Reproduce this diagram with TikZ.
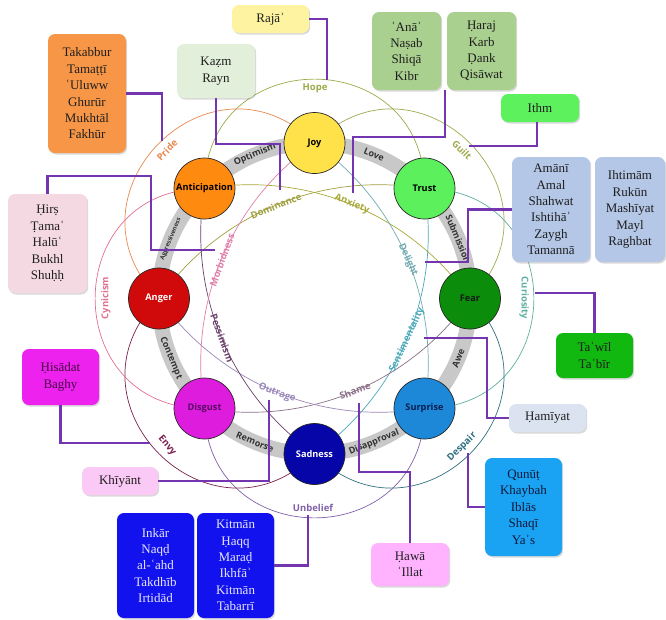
\documentclass[tikz,border=0pt]{standalone}
\usepackage{fontspec}
\setmainfont{Liberation Serif}
\newfontfamily\sansb{Open Sans}
\usetikzlibrary{backgrounds,shadows}
\definecolor{connc}{HTML}{7436B0}
\definecolor{bandc}{HTML}{C8C8C8}
\definecolor{cJoy}{HTML}{FFE24A}
\definecolor{cTrust}{HTML}{5CF05C}
\definecolor{cFear}{HTML}{0B8C0B}
\definecolor{cSurp}{HTML}{1E88D8}
\definecolor{cSad}{HTML}{0505A8}
\definecolor{cDisg}{HTML}{DE1CDE}
\definecolor{cAnger}{HTML}{D00A0A}
\definecolor{cAntic}{HTML}{FF8A10}
\definecolor{cHope}{HTML}{9BAA4A}
\definecolor{cPride}{HTML}{E9874F}
\definecolor{cGuilt}{HTML}{A0AA50}
\definecolor{cCurio}{HTML}{5FAFA0}
\definecolor{cDesp}{HTML}{2F6F80}
\definecolor{cUnbel}{HTML}{8060A8}
\definecolor{cEnvy}{HTML}{7A1F4F}
\definecolor{cCyn}{HTML}{E0708F}
\definecolor{cDom}{HTML}{A0A040}
\definecolor{cAnx}{HTML}{A8A838}
\definecolor{cDel}{HTML}{70AAB0}
\definecolor{cSent}{HTML}{4AA8B8}
\definecolor{cShame}{HTML}{8A7088}
\definecolor{cOutr}{HTML}{9A88B8}
\definecolor{cPess}{HTML}{6A3F6A}
\definecolor{cMorb}{HTML}{E07EA8}
\definecolor{bRaja}{HTML}{FDF3A0}
\definecolor{bKazm}{HTML}{E2EFDA}
\definecolor{bTakab}{HTML}{F79646}
\definecolor{bAna}{HTML}{A9D08E}
\definecolor{bIthm}{HTML}{5DF25D}
\definecolor{bAmani}{HTML}{B4C7E7}
\definecolor{bTawil}{HTML}{10B810}
\definecolor{bHami}{HTML}{DCE3F0}
\definecolor{bQunut}{HTML}{1AA3F2}
\definecolor{bHawa}{HTML}{FFB3FF}
\definecolor{bInkar}{HTML}{1212EE}
\definecolor{bKhiy}{HTML}{FBC9F5}
\definecolor{bHisa}{HTML}{EE22EE}
\definecolor{bHirs}{HTML}{F4D8E2}
\begin{document}
\begin{tikzpicture}[x=1pt,y=-1pt,
  emo/.style={circle, draw=black!85, line width=0.7pt, minimum size=61pt, inner sep=0pt, font=\sansb\bfseries\fontsize{9.2}{10}\selectfont},
  bandseg/.style={draw=bandc, line width=15pt},
  bandlbl/.style={font=\sansb\bfseries\fontsize{9}{10}\selectfont, text=black!80, inner sep=0pt, sloped},
  ringbend/.style={bend left=22.5, looseness=0.89},
  dyadarc/.style={line width=0.7pt},
  sec/.style={bend left=90, looseness=1.7},
  ter/.style={bend left=32, looseness=0.93},
  dlbl/.style={font=\sansb\bfseries\fontsize{9.5}{10}\selectfont, inner sep=0pt},
  box/.style={rounded corners=7pt, align=center, inner sep=0pt, font=\fontsize{13}{16.4}\selectfont, text=black!88, drop shadow={shadow xshift=1.2pt, shadow yshift=-1.5pt, opacity=0.3}},
  conn/.style={draw=connc, line width=2.3pt},
]
\useasboundingbox (0,0) rectangle (666,619);

% emotion nodes
\node[emo, fill=cJoy] (joy) at (314.5,143) {Joy};
\node[emo, fill=cTrust] (trust) at (424.5,188.5) {Trust};
\node[emo, fill=cFear, text=black!90] (fear) at (470,298.5) {Fear};
\node[emo, fill=cSurp, text={rgb,255:red,10;green,30;blue,80}] (surp) at (424.5,408.5) {Surprise};
\node[emo, fill=cSad, text=white] (sad) at (314.5,454) {Sadness};
\node[emo, fill=cDisg, text={rgb,255:red,90;green,10;blue,100}] (disg) at (204.5,408.5) {Disgust};
\node[emo, fill=cAnger, text=white] (anger) at (159,298.5) {Anger};
\node[emo, fill=cAntic] (antic) at (204.5,188.5) {Anticipation};

\begin{pgfonlayer}{background}
% gray band ring
\draw[bandseg] (antic.center) to[ringbend] (joy.center) to[ringbend] (trust.center)
  to[ringbend] (fear.center) to[ringbend] (surp.center) to[ringbend] (sad.center)
  to[ringbend] (disg.center) to[ringbend] (anger.center) to[ringbend] (antic.center);
% secondary dyads (outer)
\draw[dyadarc, cHope] (antic.center) to[sec] (trust.center);
\draw[dyadarc, cGuilt] (joy.center) to[sec] (fear.center);
\draw[dyadarc, cCurio] (trust.center) to[sec] (surp.center);
\draw[dyadarc, cDesp] (fear.center) to[sec] (sad.center);
\draw[dyadarc, cUnbel] (surp.center) to[sec] (disg.center);
\draw[dyadarc, cEnvy] (sad.center) to[sec] (anger.center);
\draw[dyadarc, cCyn] (disg.center) to[sec] (antic.center);
\draw[dyadarc, cPride] (anger.center) to[sec] (joy.center);
% tertiary dyads (inner)
\draw[dyadarc, cDom] (anger.center) to[ter] (trust.center);
\draw[dyadarc, cAnx] (antic.center) to[ter] (fear.center);
\draw[dyadarc, cDel] (joy.center) to[ter] (surp.center);
\draw[dyadarc, cSent] (trust.center) to[ter] (sad.center);
\draw[dyadarc, cShame] (fear.center) to[ter] (disg.center);
\draw[dyadarc, cOutr] (surp.center) to[ter] (anger.center);
\draw[dyadarc, cPess] (sad.center) to[ter] (antic.center);
\draw[dyadarc, cMorb] (disg.center) to[ter] (joy.center);
\end{pgfonlayer}

% band labels
\path (antic.center) to[ringbend] node[bandlbl] {Optimism} (joy.center);
\path (joy.center) to[ringbend] node[bandlbl] {Love} (trust.center);
\path (trust.center) to[ringbend] node[bandlbl] {Submission} (fear.center);
\path (fear.center) to[ringbend] node[bandlbl] {Awe} (surp.center);
\path (surp.center) to[ringbend] node[bandlbl] {Disapproval} (sad.center);
\path (sad.center) to[ringbend] node[bandlbl] {Remorse} (disg.center);
\path (disg.center) to[ringbend] node[bandlbl] {Contempt} (anger.center);
\path (anger.center) to[ringbend] node[bandlbl, font=\sansb\bfseries\fontsize{6}{7}\selectfont] {Aggressiveness} (antic.center);

% dyad labels
\node[dlbl, text=cHope] (lhope) at (315,88) {Hope};
\node[dlbl, text=cPride, rotate=45] (lpride) at (167,150) {Pride};
\node[dlbl, text=cGuilt, rotate=-45] (lguilt) at (462,150) {Guilt};
\node[dlbl, text=cCurio, rotate=-90] (lcurio) at (524,298) {Curiosity};
\node[dlbl, text=cDesp, rotate=45] (ldesp) at (462,447) {Despair};
\node[dlbl, text=cUnbel] (lunbel) at (313,508) {Unbelief};
\node[dlbl, text=cEnvy, rotate=-50] (lenvy) at (167,446) {Envy};
\node[dlbl, text=cCyn, rotate=90] (lcyn) at (106,298) {Cynicism};
\node[dlbl, text=cDom, rotate=22] (ldom) at (276,206) {Dominance};
\node[dlbl, text=cAnx, rotate=-22] (lanx) at (352,204) {Anxiety};
\node[dlbl, text=cDel, rotate=-65] (ldel) at (408,260) {Delight};
\node[dlbl, text=cSent, rotate=65] (lsent) at (407,340) {Sentimentality};
\node[dlbl, text=cShame, rotate=20] (lshame) at (355,391) {Shame};
\node[dlbl, text=cOutr, rotate=-20] (loutr) at (277,393) {Outrage};
\node[dlbl, text=cPess, rotate=-70] (lpess) at (222,338) {Pessimism};
\node[dlbl, text=cMorb, rotate=70] (lmorb) at (222,260) {Morbidness};

% boxes
\node[box, fill=bRaja, minimum width=77pt, minimum height=28pt] (raja) at (270.5,19) {Rajāʾ};
\node[box, fill=bKazm, minimum width=78pt, minimum height=54pt] (kazm) at (216,71) {Kaẓm\\Rayn};
\node[box, fill=bTakab, minimum width=78pt, minimum height=119pt] (takab) at (87,93.5) {Takabbur\\Tamaṭṭī\\ʿUluww\\Ghurūr\\Mukhtāl\\Fakhūr};
\node[box, fill=bAna, minimum width=69pt, minimum height=78pt] (ana) at (406.5,51) {ʿAnāʾ\\Naṣab\\Shiqā\\Kibr};
\node[box, fill=bAna, minimum width=69pt, minimum height=78pt] (haraj) at (481.5,51) {Ḥaraj\\Karb\\Ḍank\\Qisāwat};
\node[box, fill=bIthm, minimum width=78pt, minimum height=28pt] (ithm) at (540,108) {Ithm};
\node[box, fill=bAmani, minimum width=78pt, minimum height=105pt] (amani) at (551,209.5) {Amānī\\Amal\\Shahwat\\Ishtihāʾ\\Zaygh\\Tamannā};
\node[box, fill=bAmani, minimum width=70pt, minimum height=105pt] (ihtimam) at (630,209.5) {Ihtimām\\Rukūn\\Mashīyat\\Mayl\\Raghbat};
\node[box, fill=bTawil, minimum width=77pt, minimum height=45pt] (tawil) at (594.5,355.5) {Taʾwīl\\Taʿbīr};
\node[box, fill=bHami, minimum width=77pt, minimum height=28pt] (hamiyat) at (547.5,418) {Ḥamīyat};
\node[box, fill=bQunut, text={rgb,255:red,15;green,25;blue,60}, minimum width=77pt, minimum height=98pt] (qunut) at (523.5,507) {Qunūṭ\\Khaybah\\Iblās\\Shaqī\\Yaʾs};
\node[box, fill=bHawa, minimum width=78pt, minimum height=43pt] (hawa) at (410,564.5) {Ḥawā\\ʿIllat};
\node[box, fill=bInkar, text=white!90!blue, minimum width=77pt, minimum height=105pt] (inkar) at (155.5,565.5) {Inkār\\Naqḍ\\al-ʿahd\\Takdhīb\\Irtidād};
\node[box, fill=bInkar, text=white!90!blue, minimum width=77pt, minimum height=105pt] (kitman) at (235.5,565.5) {Kitmān\\Ḥaqq\\Maraḍ\\Ikhfāʾ\\Kitmān\\Tabarrī};
\node[box, fill=bKhiy, minimum width=76pt, minimum height=28pt] (khiyant) at (120,481) {Khīyānt};
\node[box, fill=bHisa, text={rgb,255:red,70;green,10;blue,70}, minimum width=77pt, minimum height=56pt] (hisadat) at (60.5,377) {Ḥisādat\\Baghy};
\node[box, fill=bHirs, minimum width=79pt, minimum height=99pt] (hirs) at (47.5,243.5) {Ḥirṣ\\Ṭamaʿ\\Halūʿ\\Bukhl\\Shuḥḥ};

% connector free ends
\coordinate (rajaend) at (327,80);
\coordinate (kazmk) at (280,144);
\coordinate (kazmend) at (280,190);
\coordinate (takabend) at (162,141);
\coordinate (harajk) at (353,137);
\coordinate (harajend) at (353,193);
\coordinate (ithmend) at (469,146);
\coordinate (amanik) at (468,262);
\coordinate (amaniend) at (425,262);
\coordinate (tawilend) at (535,293);
\coordinate (hamik) at (487,338);
\coordinate (hamiend) at (424,338);
\coordinate (qunutend) at (468,453);
\coordinate (hawak) at (359,472);
\coordinate (hawaend) at (359,403);
\coordinate (kitmanend) at (308,515);
\coordinate (khiyend) at (269,400);
\coordinate (hisend) at (150,443);
\coordinate (hirsk) at (151,176);
\coordinate (hirsend) at (215,250);

% connectors
\draw[conn] (raja.east) -| (rajaend);
\draw[conn] (kazm.south) |- (kazmk) -- (kazmend);
\draw[conn] (takab.east) -| (takabend);
\draw[conn] ([xshift=-2pt]haraj.south west) |- (harajk) -- (harajend);
\draw[conn] ([xshift=-3pt]ithm.south) |- (ithmend);
\draw[conn] (amani.west) -| (amanik) -- (amaniend);
\draw[conn] (tawil.north) |- (tawilend);
\draw[conn] (hamiyat.west) -| (hamik) -- (hamiend);
\draw[conn] (qunut.west) -| (qunutend);
\draw[conn] (hawa.north) |- (hawak) -- (hawaend);
\draw[conn] (kitman.east) -| (kitmanend);
\draw[conn] (khiyant.east) -| (khiyend);
\draw[conn] (hisadat.south) |- (hisend);
\draw[conn] (hirs.north) |- (hirsk) |- (hirsend);
\end{tikzpicture}
\end{document}
